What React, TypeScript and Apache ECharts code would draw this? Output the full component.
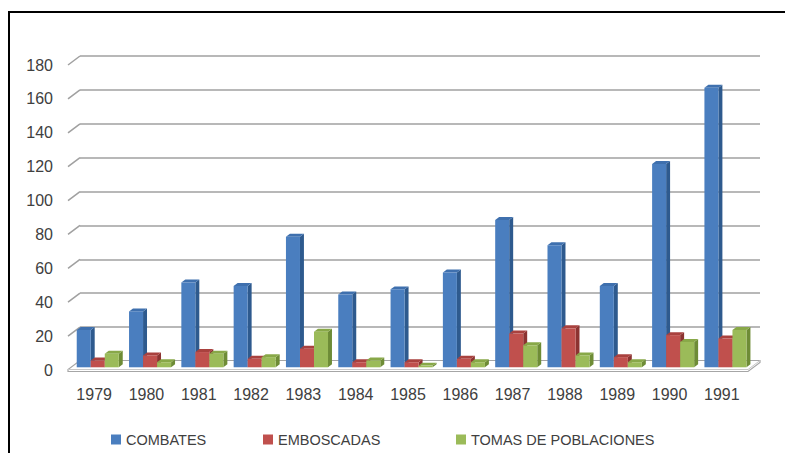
import React, { useEffect, useRef } from "react";
import * as echarts from "echarts";

const categories = ["1979", "1980", "1981", "1982", "1983", "1984", "1985", "1986", "1987", "1988", "1989", "1990", "1991"];
const combates = [22, 33, 50, 48, 77, 43, 46, 56, 87, 72, 48, 120, 165];
const emboscadas = [4, 7, 9, 5, 11, 3, 3, 5, 20, 23, 6, 19, 17];
const tomas = [8, 3, 8, 6, 21, 4, 1, 3, 13, 7, 3, 15, 22];
const yTicks = [0, 20, 40, 60, 80, 100, 120, 140, 160, 180];

const seriesNames = ["COMBATES", "EMBOSCADAS", "TOMAS DE POBLACIONES"];
const seriesData = [combates, emboscadas, tomas];
const faceColors = [
  { front: "#4A7EBF", side: "#2E5A8E", top: "#3F70AE" },
  { front: "#C0504D", side: "#8C3331", top: "#A9413E" },
  { front: "#9BBB59", side: "#6E8C36", top: "#88A848" },
];

// depth offsets (px) for the 3D look
const DX = 12;
const DY = -9;
const F0 = 0.3;
const F1 = 0.63;

const FONT = "Liberation Sans";
const TEXT = "#404040";

export default function App() {
  const ref = useRef<HTMLDivElement>(null);
  useEffect(() => {
    if (!ref.current) return;
    const chart = echarts.init(ref.current, null, { renderer: "svg" });

    const barSeries = seriesData.map((vals, si) => ({
      type: "custom",
      name: seriesNames[si],
      xAxisIndex: 0,
      yAxisIndex: 0,
      itemStyle: { color: faceColors[si].front },
      data: vals.map((v, i) => [i, v]),
      z: 5,
      renderItem: (params: any, api: any) => {
        const idx = api.value(0);
        const val = api.value(1);
        const base = api.coord([idx, 0]);
        const top = api.coord([idx, val]);
        const bw = api.size([1, 0])[0] * 0.268;
        const k = si - 1;
        const x0 = base[0] + (k - 0.5) * bw;
        const fx = DX * F0, fy = DY * F0;
        const bx = DX * F1, by = DY * F1;
        const c = faceColors[si];
        return {
          type: "group",
          children: [
            {
              type: "polygon",
              shape: {
                points: [
                  [x0 + fx + bw, top[1] + fy],
                  [x0 + bx + bw, top[1] + by],
                  [x0 + bx + bw, base[1] + by],
                  [x0 + fx + bw, base[1] + fy],
                ],
              },
              style: { fill: c.side },
            },
            {
              type: "polygon",
              shape: {
                points: [
                  [x0 + fx, top[1] + fy],
                  [x0 + bx, top[1] + by],
                  [x0 + bx + bw, top[1] + by],
                  [x0 + fx + bw, top[1] + fy],
                ],
              },
              style: { fill: c.top },
            },
            {
              type: "rect",
              shape: { x: x0 + fx, y: top[1] + fy, width: bw, height: base[1] - top[1] },
              style: { fill: c.front },
            },
          ],
        };
      },
    }));

    const wallSeries = {
      type: "custom",
      name: "walls",
      xAxisIndex: 0,
      yAxisIndex: 0,
      silent: true,
      z: 1,
      data: yTicks.map((t) => [0, t]),
      renderItem: (params: any, api: any) => {
        const cs = params.coordSys;
        const v = api.value(1);
        const y = api.coord([0, v])[1];
        const children: any[] = [];
        if (v === 0) {
          children.push({
            type: "polygon",
            shape: {
              points: [
                [cs.x, y + 1.5],
                [cs.x + cs.width, y + 1.5],
                [cs.x + cs.width + DX, y + DY + 1.5],
                [cs.x + cs.width + DX, y + DY - 0.5],
                [cs.x + DX, y + DY - 0.5],
                [cs.x, y - 0.5],
              ],
            },
            style: { fill: "#ffffff", stroke: "#A6A6A6", lineWidth: 1.2 },
          });
          children.push({
            type: "line",
            shape: { x1: cs.x, y1: y - 0.5, x2: cs.x + cs.width, y2: y - 0.5 },
            style: { stroke: "#C8C8C8", lineWidth: 1 },
          });
          children.push({
            type: "line",
            shape: { x1: cs.x + cs.width, y1: y - 0.5, x2: cs.x + cs.width + DX, y2: y + DY - 0.5 },
            style: { stroke: "#C8C8C8", lineWidth: 1 },
          });
        } else {
          children.push({
            type: "line",
            shape: { x1: cs.x, y1: y, x2: cs.x + DX, y2: y + DY },
            style: { stroke: "#A0A0A0", lineWidth: 1.5 },
          });
        }
        return { type: "group", children };
      },
    };

    const legendCommon = {
      orient: "horizontal",
      top: 427,
      itemWidth: 10,
      itemHeight: 10,
      itemGap: 6,
      icon: "rect",
      textStyle: { fontFamily: FONT, fontSize: 14.5, color: TEXT },
    };

    chart.setOption({
      animation: false,
      backgroundColor: "#ffffff",
      textStyle: { fontFamily: FONT },
      legend: [
        { ...legendCommon, left: 106, data: [seriesNames[0]] },
        { ...legendCommon, left: 258, data: [seriesNames[1]] },
        { ...legendCommon, left: 451, data: [seriesNames[2]] },
      ],
      grid: [
        { left: 68, right: 37, top: 65, bottom: 83, containLabel: false },
        { left: 80, right: 25, top: 56, bottom: 92, containLabel: false },
      ],
      xAxis: [
        {
          type: "category",
          gridIndex: 0,
          data: categories,
          axisLine: { show: false },
          axisTick: { show: false },
          axisLabel: { margin: 16, fontFamily: FONT, fontSize: 16, color: TEXT, interval: 0 },
        },
        {
          type: "category",
          gridIndex: 1,
          data: categories,
          show: false,
        },
      ],
      yAxis: [
        {
          type: "value",
          gridIndex: 0,
          min: 0,
          max: 180,
          interval: 20,
          axisLine: { show: false },
          axisTick: { show: false },
          splitLine: { show: false },
          axisLabel: { margin: 15, fontFamily: FONT, fontSize: 16, color: TEXT },
        },
        {
          type: "value",
          gridIndex: 1,
          min: 0,
          max: 180,
          interval: 20,
          axisLine: { show: false },
          axisTick: { show: false },
          axisLabel: { show: false },
          splitLine: {
            show: true,
            lineStyle: { color: "#A0A0A0", width: 1.5 },
          },
        },
      ],
      graphic: [
        {
          type: "line",
          shape: { x1: 9, y1: 12, x2: 785, y2: 12 },
          style: { stroke: "#000000", lineWidth: 2 },
          z: 100,
        },
        {
          type: "line",
          shape: { x1: 9, y1: 11, x2: 9, y2: 453 },
          style: { stroke: "#000000", lineWidth: 2 },
          z: 100,
        },
      ],
      series: [wallSeries, ...barSeries],
    });

    return () => chart.dispose();
  }, []);

  return (
    <div
      ref={ref}
      style={{ position: "fixed", left: 0, top: 0, width: 785, height: 453, background: "#fff" }}
    />
  );
}
